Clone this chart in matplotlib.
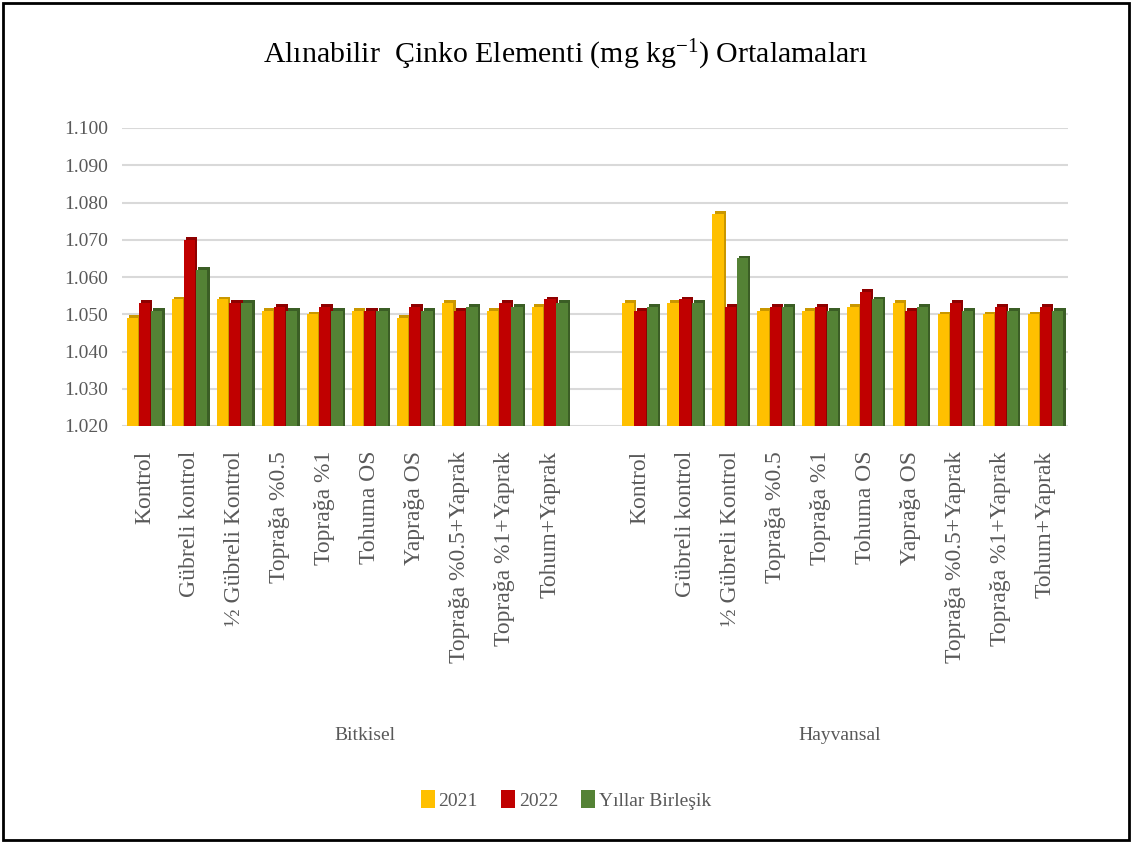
import matplotlib
matplotlib.use("Agg")
import matplotlib.pyplot as plt
import numpy as np
from matplotlib.patches import Rectangle, Patch

plt.rcParams['font.family'] = ['Liberation Serif', 'DejaVu Serif']
plt.rcParams['mathtext.fontset'] = 'custom'
plt.rcParams['mathtext.rm'] = 'Liberation Serif'
plt.rcParams['mathtext.it'] = 'Liberation Serif:italic'

treatments = ["Kontrol", "Gübreli kontrol", "½ Gübreli Kontrol", "Toprağa %0.5",
              "Toprağa %1", "Tohuma OS", "Yaprağa OS", "Toprağa %0.5+Yaprak",
              "Toprağa %1+Yaprak", "Tohum+Yaprak"]
groups = ["Bitkisel", "Hayvansal"]
series_names = ["2021", "2022", "Yıllar Birleşik"]

bitkisel_2021 = [1.049, 1.054, 1.054, 1.051, 1.050, 1.051, 1.049, 1.053, 1.051, 1.052]
bitkisel_2022 = [1.053, 1.070, 1.053, 1.052, 1.052, 1.051, 1.052, 1.051, 1.053, 1.054]
bitkisel_bir = [1.051, 1.062, 1.053, 1.051, 1.051, 1.051, 1.051, 1.052, 1.052, 1.053]

hayvansal_2021 = [1.053, 1.053, 1.077, 1.051, 1.051, 1.052, 1.053, 1.050, 1.050, 1.050]
hayvansal_2022 = [1.051, 1.054, 1.052, 1.052, 1.052, 1.056, 1.051, 1.053, 1.052, 1.052]
hayvansal_bir = [1.052, 1.053, 1.065, 1.052, 1.051, 1.054, 1.052, 1.051, 1.051, 1.051]

colors = ["#FFC000", "#C00000", "#548235"]
dark = ["#C99700", "#8E0000", "#3B5E25"]

yticks = [1.020, 1.030, 1.040, 1.050, 1.060, 1.070, 1.080, 1.090, 1.100]

fig = plt.figure(figsize=(11.32, 8.43), dpi=100)
ax = fig.add_axes([122/1132, 1 - 426/843, (1068 - 122)/1132, (426 - 128)/843])

n = len(treatments)
pos = np.concatenate([np.arange(n), np.arange(n) + n + 1])
series = [bitkisel_2021 + hayvansal_2021,
          bitkisel_2022 + hayvansal_2022,
          bitkisel_bir + hayvansal_bir]

w = 0.25
offsets = [-0.27, 0.0, 0.27]
for k in range(3):
    vals = np.array(series[k])
    # pseudo-3D depth (side/top shading)
    ax.bar(pos + offsets[k] + 0.05, vals + 0.0007 - yticks[0], width=w, bottom=yticks[0],
           color=dark[k], zorder=2 + k * 2)
    ax.bar(pos + offsets[k], vals - yticks[0], width=w, bottom=yticks[0],
           color=colors[k], zorder=3 + k * 2)

ax.set_ylim(yticks[0], yticks[-1])
ax.set_xlim(-0.5, 2 * n + 0.5)
ax.set_yticks(yticks)
ax.set_yticklabels([f"{t:.3f}" for t in yticks], fontsize=14, color="#595959")
ax.yaxis.grid(True, color="#D9D9D9", linewidth=1.5, zorder=0)
ax.set_axisbelow(True)
for s in ax.spines.values():
    s.set_visible(False)
ax.tick_params(axis='y', length=0, pad=10)
ax.tick_params(axis='x', length=0, pad=18)
ax.set_xticks(pos)
ax.set_xticklabels(treatments * 2, rotation=90, fontsize=17, color="#595959", va='top')

# group labels
fig.text(365/1132, 1 - 735/843, groups[0], ha='center', va='center', fontsize=14, color="#595959")
fig.text(840/1132, 1 - 735/843, groups[1], ha='center', va='center', fontsize=14, color="#595959")

# title
fig.text(0.5, 1 - 55/843, "Alınabilir  Çinko Elementi (mg kg$^{\\mathregular{-1}}$) Ortalamaları",
         ha='center', va='center', fontsize=21.5, color="black")

handles = [Patch(facecolor=c) for c in colors]
fig.legend(handles, series_names, loc='center', bbox_to_anchor=(566/1132, 1 - 800/843),
           ncol=3, frameon=False, fontsize=14, handlelength=0.7, handleheight=1.0,
           handletextpad=0.2, columnspacing=1.2, labelcolor="#595959")

fig.patches.append(Rectangle((0.003, 0.003), 0.994, 0.994, transform=fig.transFigure,
                             fill=False, edgecolor="black", linewidth=2))

fig.savefig("out.png", dpi=100)
